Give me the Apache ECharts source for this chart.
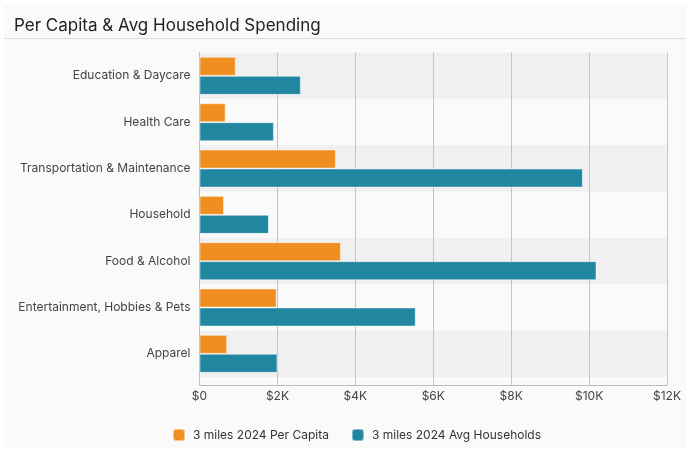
<!DOCTYPE html>
<html>
<head>
<meta charset="utf-8">
<script src="https://cdn.jsdelivr.net/npm/echarts@6/dist/echarts.min.js"></script>
<style>
  html, body { margin: 0; padding: 0; background: #ffffff; }
  #card { position: absolute; left: 4px; top: 5px; width: 682px; height: 443px; background: #fafafa; }
  #chart { width: 682px; height: 443px; }
</style>
</head>
<body>
<div id="card"><div id="chart"></div></div>
<script>
const categories = [
    'Education & Daycare',
    'Health Care',
    'Transportation & Maintenance',
    'Household',
    'Food & Alcohol',
    'Entertainment, Hobbies & Pets',
    'Apparel'
];
const perCapita = [930, 670, 3500, 630, 3630, 1980, 710];
const avgHouseholds = [2600, 1910, 9840, 1780, 10190, 5550, 2000];
const seriesNames = ['3 miles 2024 Per Capita', '3 miles 2024 Avg Households'];

const chart = echarts.init(document.getElementById('chart'));
chart.setOption({
    textStyle: { fontFamily: 'Inter' },
    title: {
        text: 'Per Capita & Avg Household Spending',
        left: 5,
        top: 5,
        textStyle: { fontFamily: 'Inter', fontSize: 17, fontWeight: 'normal', color: '#222', lineHeight: 22 }
    },
    graphic: [{
        type: 'line',
        shape: { x1: 0, y1: 33.5, x2: 682, y2: 33.5 },
        style: { stroke: '#dddddd', lineWidth: 1 }
    }],
    legend: {
        left: 163,
        top: 418,
        itemWidth: 12,
        itemHeight: 12,
        itemGap: 22,
        icon: 'roundRect',
        textStyle: { fontSize: 12, color: '#333', padding: [0, 0, 0, 3] },
        data: seriesNames
    },
    grid: { left: 195.5, right: 19, top: 47.7, bottom: 71, containLabel: false },
    xAxis: {
        type: 'value',
        min: 0,
        max: 12000,
        interval: 2000,
        offset: 8,
        axisLine: { show: true, lineStyle: { color: '#bbbbbb' } },
        axisTick: { show: true, inside: true, length: 8, lineStyle: { color: '#c4c4c4' } },
        axisLabel: {
            margin: 5,
            fontSize: 12,
            color: '#444',
            formatter: v => v === 0 ? '$0' : '$' + (v / 1000) + 'K'
        },
        splitLine: { show: true, lineStyle: { color: '#c4c4c4' } }
    },
    yAxis: {
        type: 'category',
        inverse: true,
        data: categories,
        axisLine: { show: true, lineStyle: { color: '#bbbbbb' } },
        axisTick: { show: false },
        axisLabel: { margin: 9, fontSize: 12, color: '#444' },
        splitArea: { show: true, areaStyle: { color: ['#f0f0f0', '#fafafa'] } }
    },
    series: [
        {
            name: seriesNames[0],
            type: 'bar',
            data: perCapita,
            barWidth: 19,
            barGap: '0%',
            itemStyle: { color: '#f08e20', borderColor: 'rgba(255,255,255,0.45)', borderWidth: 1 }
        },
        {
            name: seriesNames[1],
            type: 'bar',
            data: avgHouseholds,
            barWidth: 19,
            itemStyle: { color: '#2186a0', borderColor: 'rgba(255,255,255,0.45)', borderWidth: 1 }
        }
    ]
});
</script>
</body>
</html>
